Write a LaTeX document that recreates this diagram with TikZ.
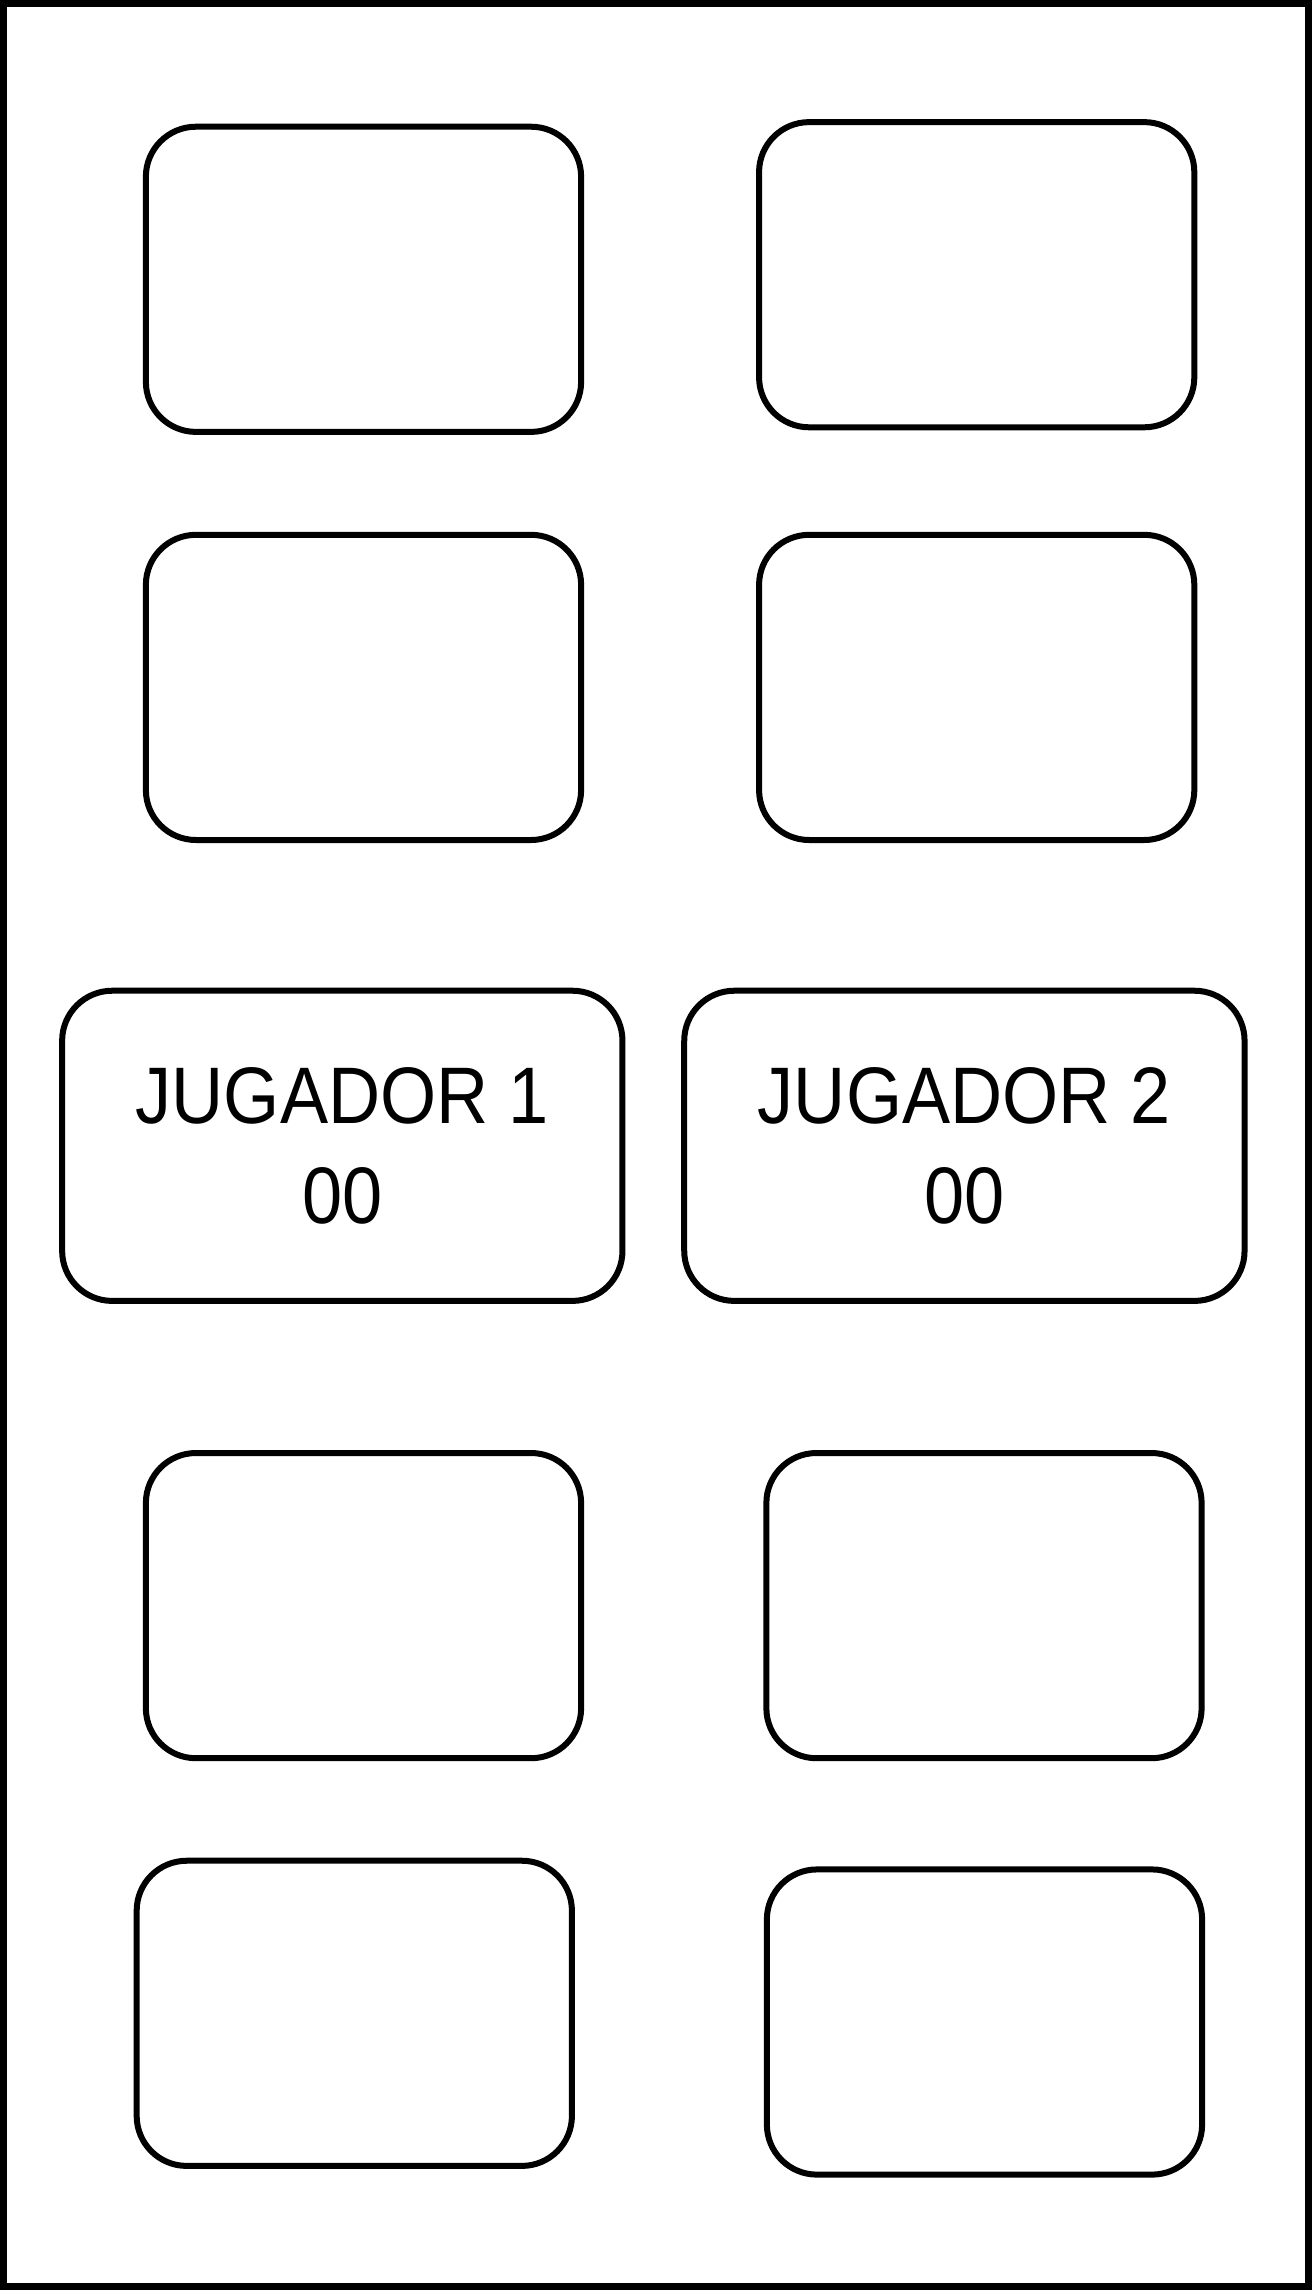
\documentclass[tikz,border=0pt]{standalone}
\usepackage{fontspec}
\setmainfont[FakeStretch=0.9]{Liberation Sans}
\usetikzlibrary{positioning}

\begin{document}
\begin{tikzpicture}[x=0.01cm, y=-0.01cm,
  card/.style={rectangle, draw, line width=0.06cm, rounded corners=0.5cm, minimum width=4.35cm, minimum height=3.05cm, inner sep=0pt},
  player/.style={card, minimum width=5.6cm, minimum height=3.1cm, align=center, font=\fontsize{22.8}{28.2}\selectfont}]
\useasboundingbox (0,0) rectangle (1312,2290);
\draw[line width=0.07cm] (3.5,3.5) rectangle (1308.5,2286.5);
\node[card] (c1) at (363.5,279.3) {};
\node[card] (c2) at (976.7,274.7) {};
\node[card] (c3) at (363.5,687.4) {};
\node[card] (c4) at (976.7,687.4) {};
\node[player] (jug1) at (342.3,1145.8) {JUGADOR 1\\00};
\node[player] (jug2) at (964.4,1145.8) {JUGADOR 2\\00};
\node[card] (c5) at (363.5,1605.6) {};
\node[card] (c6) at (984.0,1605.6) {};
\node[card] (c7) at (354.3,2013.3) {};
\node[card] (c8) at (984.5,2022.0) {};
\end{tikzpicture}
\end{document}
